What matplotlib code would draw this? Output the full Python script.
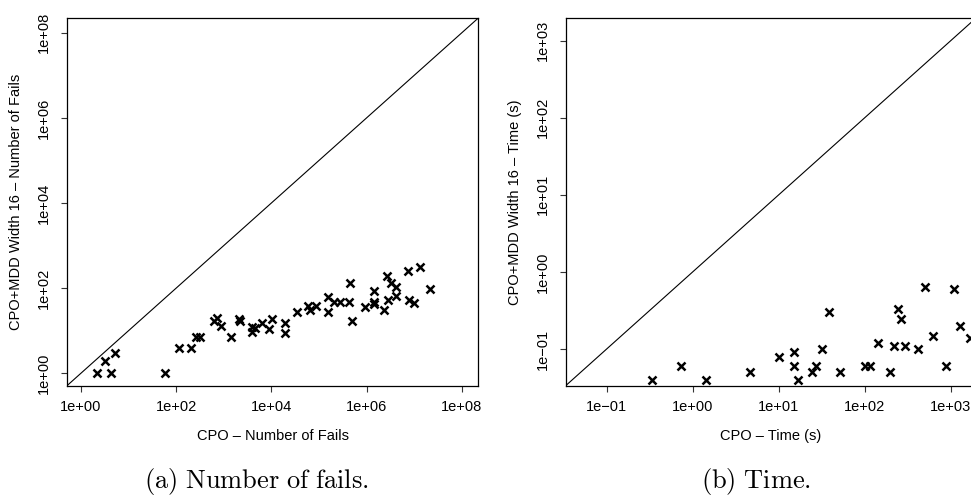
import matplotlib
matplotlib.use("Agg")
import matplotlib.pyplot as plt

plt.rcParams['font.family'] = ['Liberation Sans', 'DejaVu Sans']
plt.rcParams['mathtext.fontset'] = 'cm'

# (a) number of fails: CPO vs CPO+MDD width 16
fails_cpo = [2.16, 3.2, 4.3, 5.2, 58, 115, 203, 257, 317, 626, 738, 890, 1440,
             2090, 2190, 3990, 3990, 4450, 6430, 9150, 10400, 19200, 19200,
             34000, 58500, 64000, 87000, 155000, 155000, 210000, 280000,
             437000, 460000, 500000, 915000, 1.41e6, 1.41e6, 1.45e6, 2.3e6,
             2.7e6, 2.76e6, 3.3e6, 4.2e6, 4.2e6, 7.4e6, 7.6e6, 9.8e6, 1.3e7,
             2.2e7]
fails_mdd = [1, 2.0, 1, 3.0, 1, 3.9, 3.9, 7.0, 7.0, 17, 19.6, 12.7, 7.0,
             19, 17, 9.2, 12.1, 11.6, 15.3, 11.0, 19, 15.3, 9.0,
             28.2, 39, 30.8, 38.3, 61, 28, 46.8, 46.8,
             46.8, 133, 17.3, 35.6, 88, 42.5, 46.8, 30.8,
             198, 53, 130, 105, 67, 260, 53, 44, 310,
             96]

# (b) time in seconds
time_cpo = [0.34, 0.74, 1.45, 4.7, 10.1, 15, 15, 16.8, 24.5, 27, 32.3, 38.3,
            51.8, 102, 115, 143, 196, 220, 245, 265, 297, 418, 499, 624, 891,
            1084, 1295, 1663]
time_mdd = [0.040, 0.060, 0.040, 0.050, 0.079, 0.091, 0.060, 0.040, 0.050,
            0.060, 0.100, 0.30, 0.050, 0.060, 0.060, 0.12, 0.050, 0.108, 0.33,
            0.247, 0.108, 0.100, 0.636, 0.149, 0.060, 0.605, 0.197, 0.139]

fails_lim = [10 ** -0.29, 10 ** 8.34]
fails_ticks = [1e0, 1e2, 1e4, 1e6, 1e8]
fails_labels = ['1e+00', '1e+02', '1e+04', '1e+06', '1e+08']

time_lim = [10 ** -1.475, 10 ** 3.29]
time_ticks = [1e-1, 1e0, 1e1, 1e2, 1e3]
time_labels = ['1e\u221201', '1e+00', '1e+01', '1e+02', '1e+03']

W, H = 971, 499
fig = plt.figure(figsize=(W / 100, H / 100), dpi=100)

ax_b = (H - 385.7) / H
ax_h = 367.4 / H
ax1 = fig.add_axes([67 / W, ax_b, 411 / W, ax_h])
ax2 = fig.add_axes([565.7 / W, ax_b, 410 / W, ax_h])

panels = [
    (ax1, fails_cpo, fails_mdd, fails_lim, fails_ticks, fails_labels,
     'CPO \u2013 Number of Fails', 'CPO+MDD Width 16 \u2013 Number of Fails'),
    (ax2, time_cpo, time_mdd, time_lim, time_ticks, time_labels,
     'CPO \u2013 Time (s)', 'CPO+MDD Width 16 \u2013 Time (s)'),
]

fs = 10.5
for ax, x, y, lim, ticks, labels, xlab, ylab in panels:
    ax.set_xscale('log')
    ax.set_yscale('log')
    ax.plot(lim, lim, color='black', lw=0.8)
    ax.plot(x, y, 'x', color='black', markersize=6, mew=1.8, clip_on=False)
    ax.set_xlim(lim)
    ax.set_ylim(lim)
    ax.set_xticks(ticks)
    ax.set_xticklabels(labels, fontsize=fs)
    ax.set_yticks(ticks)
    ax.set_yticklabels(labels, fontsize=fs, rotation=90, va='center')
    ax.minorticks_off()
    ax.tick_params(direction='out', length=4.5, width=0.8, color='#333333')
    ax.tick_params(axis='x', pad=6)
    ax.tick_params(axis='y', pad=7)
    for s in ax.spines.values():
        s.set_linewidth(0.9)
    ax.set_xlabel(xlab, fontsize=fs)
    ax.set_ylabel(ylab, fontsize=fs)
    ax.xaxis.label.set_va('center')
    ax.yaxis.label.set_va('center')
    ax.xaxis.set_label_coords(0.5, -0.137)
    ax.yaxis.set_label_coords(-0.124, 0.5)

fig.text(256 / W, 1 - 488 / H, r'$\mathrm{(a)\ Number\ of\ fails.}$',
         fontsize=19, ha='center', va='baseline')
fig.text(756 / W, 1 - 488 / H, r'$\mathrm{(b)\ Time.}$',
         fontsize=19, ha='center', va='baseline')

fig.savefig('out.png', dpi=100)
